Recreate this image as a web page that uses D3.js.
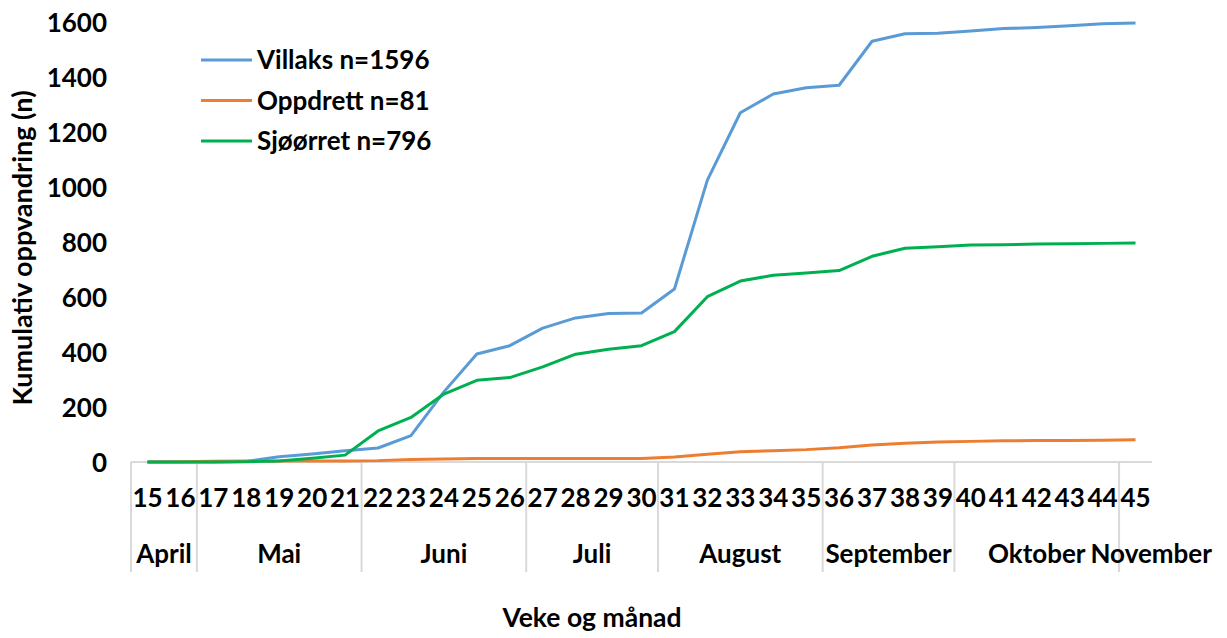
<!DOCTYPE html>
<html>
<head>
<meta charset="utf-8">
<script src="https://cdn.jsdelivr.net/npm/d3@7"></script>
<style>
  html, body { margin: 0; padding: 0; background: #fff; }
  svg text { font-family: Lato, "Open Sans", sans-serif; font-weight: 700; fill: #000; }
</style>
</head>
<body>
<svg id="chart" width="1227" height="638"></svg>
<script>
const weeks = [15,16,17,18,19,20,21,22,23,24,25,26,27,28,29,30,31,32,33,34,35,36,37,38,39,40,41,42,43,44,45];
const villaks = [0,0,0,2,19,29,41,51,96,255,393,423,487,524,540,542,629,1025,1270,1338,1361,1370,1530,1557,1559,1567,1576,1580,1586,1594,1596];
const oppdrett = [0,1,3,4,4,4,4,5,9,11,13,13,13,13,13,13,18,28,37,41,45,52,62,68,73,75,77,78,78,79,81];
const sjoorret = [0,0,0,1,4,14,25,113,162,247,297,307,346,392,410,423,474,601,658,679,687,696,748,777,783,789,790,793,794,795,796];
const seriesNames = ["Villaks n=1596", "Oppdrett n=81", "Sjøørret n=796"];
const seriesColors = ["#5B9BD5", "#ED7D31", "#00B050"];
const months = ["April","Mai","Juni","Juli","August","September","Oktober","November"];
const monthStart = [15,17,22,27,31,36,40,45];
const monthEnd = [16,21,26,30,35,39,44,45];
const yTicks = [0,200,400,600,800,1000,1200,1400,1600];

const svg = d3.select("#chart");
const pLeft = 131, pRight = 1152, pTop = 22, pBottom = 462;
const FS = 26;

const x = d3.scaleBand().domain(weeks).range([pLeft, pRight]).padding(0);
const bw = x.bandwidth();
const y = d3.scaleLinear().domain([0, 1600]).range([pBottom, pTop]);

// y tick labels
const yAxis = d3.axisLeft(y).tickValues(yTicks).tickFormat(d3.format("d")).tickSize(0).tickPadding(0);
const gy = svg.append("g").attr("transform", `translate(${107},0)`).call(yAxis);
gy.select(".domain").remove();
gy.selectAll("text").style("font-size", FS + "px").attr("dy", "0.35em")
  .style("font-family", "Lato, sans-serif").style("font-weight", 700).attr("fill", "#000");

// x axis line
svg.append("line").attr("x1", pLeft).attr("x2", pRight).attr("y1", pBottom).attr("y2", pBottom)
  .attr("stroke", "#d9d9d9").attr("stroke-width", 2);

// month separators
svg.selectAll("line.sep").data(monthStart).enter().append("line").attr("class", "sep")
  .attr("x1", d => x(d)).attr("x2", d => x(d)).attr("y1", pBottom).attr("y2", 572)
  .attr("stroke", "#d9d9d9").attr("stroke-width", 2);

// week labels
svg.selectAll("text.wk").data(weeks).enter().append("text").attr("class", "wk")
  .attr("x", d => x(d) + bw / 2).attr("y", 507).attr("text-anchor", "middle")
  .style("font-size", FS + "px").text(d => d);

// month labels
let prevRight = -Infinity;
months.forEach((m, i) => {
  const cx = (x(monthStart[i]) + x(monthEnd[i]) + bw) / 2;
  const t = svg.append("text").attr("x", cx).attr("y", 563).attr("text-anchor", "middle")
    .style("font-size", FS + "px").text(m);
  const w = t.node().getComputedTextLength();
  let l = cx - w / 2;
  if (l < prevRight + 5) { t.attr("x", prevRight + 5 + w / 2); l = prevRight + 5; }
  prevRight = l + w;
});

// lines
const allSeries = [villaks, oppdrett, sjoorret];
const line = d3.line().x((d, i) => x(weeks[i]) + bw / 2).y(d => y(d));
allSeries.forEach((s, i) => {
  svg.append("path").datum(s).attr("d", line).attr("fill", "none")
    .attr("stroke", seriesColors[i]).attr("stroke-width", 3)
    .attr("stroke-linejoin", "round");
});

// legend
seriesNames.forEach((n, i) => {
  const ly = 60 + i * 40.5;
  svg.append("line").attr("x1", 201).attr("x2", 252).attr("y1", ly).attr("y2", ly)
    .attr("stroke", seriesColors[i]).attr("stroke-width", 3);
  svg.append("text").attr("x", 257).attr("y", ly).attr("dy", "0.35em")
    .style("font-size", FS + "px").text(n);
});

// axis titles
svg.append("text").attr("transform", "translate(32,248) rotate(-90)").attr("text-anchor", "middle")
  .style("font-size", "27px").text("Kumulativ oppvandring (n)");
svg.append("text").attr("x", 592).attr("y", 627).attr("text-anchor", "middle")
  .style("font-size", "26.5px").text("Veke og månad");
</script>
</body>
</html>
